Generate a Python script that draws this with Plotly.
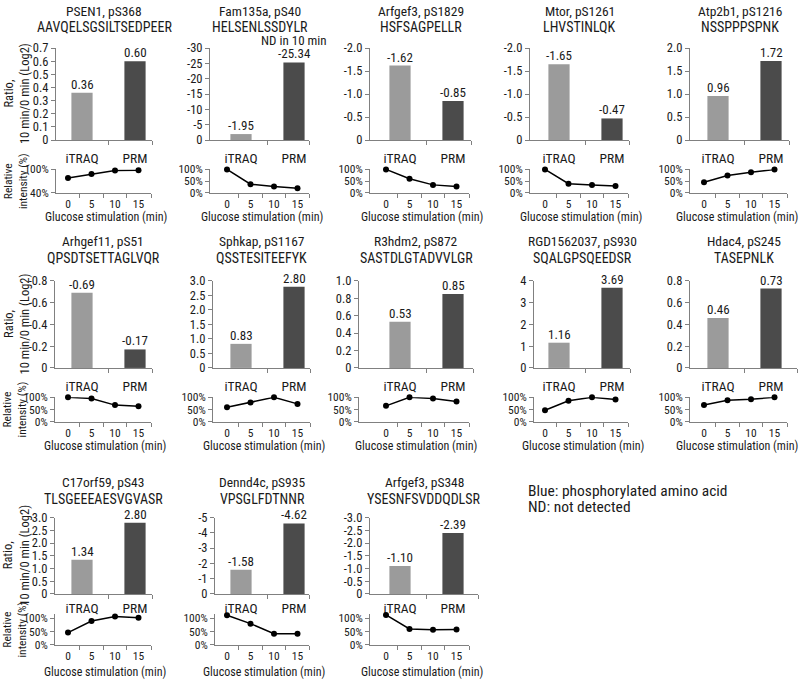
import plotly.graph_objects as go

# ---------------- data ----------------
genes = ["PSEN1, pS368", "Fam135a, pS40", "Arfgef3, pS1829", "Mtor, pS1261", "Atp2b1, pS1216",
         "Arhgef11, pS51", "Sphkap, pS1167", "R3hdm2, pS872", "RGD1562037, pS930", "Hdac4, pS245",
         "C17orf59, pS43", "Dennd4c, pS935", "Arfgef3, pS348"]
peptides = ["AAVQELSGSILTSEDPEER", "HELSENLSSDYLR", "HSFSAGPELLR", "LHVSTINLQK", "NSSPPPSPNK",
            "QPSDTSETTAGLVQR", "QSSTESITEEFYK", "SASTDLGTADVVLGR", "SQALGPSQEEDSR", "TASEPNLK",
            "TLSGEEEAESVGVASR", "VPSGLFDTNNR", "YSESNFSVDDQDLSR"]
methods = ["iTRAQ", "PRM"]
itraq_ratio = [0.36, -1.95, -1.62, -1.65, 0.96, -0.69, 0.83, 0.53, 1.16, 0.46, 1.34, -1.58, -1.10]
prm_ratio = [0.60, -25.34, -0.85, -0.47, 1.72, -0.17, 2.80, 0.85, 3.69, 0.73, 2.80, -4.62, -2.39]
prm_notes = ["", "ND in 10 min", "", "", "", "", "", "", "", "", "", "", ""]
bar_tick_labels = [
    ["0", "0.1", "0.2", "0.3", "0.4", "0.5", "0.6", "0.7"],
    ["0", "-5", "-10", "-15", "-20", "-25", "-30"],
    ["0", "-0.5", "-1.0", "-1.5", "-2.0"],
    ["0", "-0.5", "-1.0", "-1.5", "-2.0"],
    ["0", "0.5", "1.0", "1.5", "2.0"],
    ["0", "-0.2", "-0.4", "-0.6", "-0.8"],
    ["0", "0.5", "1.0", "1.5", "2.0", "2.5", "3.0"],
    ["0", "0.2", "0.4", "0.6", "0.8", "1.0"],
    ["0", "1", "2", "3", "4"],
    ["0", "0.2", "0.4", "0.6", "0.8"],
    ["0", "0.5", "1.0", "1.5", "2.0", "2.5", "3.0"],
    ["0", "-1", "-2", "-3", "-4", "-5"],
    ["0", "-0.5", "-1.0", "-1.5", "-2.0", "-2.5", "-3.0"],
]
time_labels = ["0", "5", "10", "15"]
rel_intensity = [
    [0.78, 0.88, 0.97, 0.98],
    [1.00, 0.37, 0.27, 0.20],
    [1.00, 0.60, 0.34, 0.27],
    [1.00, 0.39, 0.34, 0.29],
    [0.45, 0.74, 0.88, 1.00],
    [1.00, 0.95, 0.68, 0.63],
    [0.59, 0.79, 1.00, 0.73],
    [0.65, 1.00, 0.95, 0.83],
    [0.47, 0.86, 1.00, 0.91],
    [0.68, 0.88, 0.92, 1.00],
    [0.46, 0.90, 1.07, 1.02],
    [1.12, 0.80, 0.42, 0.42],
    [1.13, 0.60, 0.57, 0.58],
]
line_tick_labels = [["40%", "100%"]] + [["0%", "50%", "100%"]] * 12
line_axis_max = [1.0] * 10 + [1.15, 1.15, 1.15]
note_lines = ["Blue: phosphorylated amino acid", "ND: not detected"]

# ---------------- layout geometry (pixels) ----------------
W, H = 800, 685
FONT = "Liberation Sans Narrow, Roboto Condensed, Roboto, sans-serif"
AX = "#808080"
TXT = "#1a1a1a"
C_ITRAQ = "#9b9b9b"
C_PRM = "#4b4b4b"

axis_x0 = [56, 210, 370, 530, 690, 55, 213, 359, 534, 690, 55, 215, 370]
axis_x1 = [152, 309, 471, 629, 789, 152, 310, 473, 630, 797, 152, 309, 478]
row_title_y = [3, 238, 485]
row_seq_y = [19, 256, 502]
row_bar = [(41, 135), (279, 368), (521, 599)]
row_line = [(165, 189), (398, 423), (620, 651)]
row_xtitle_y = [214, 448, 679]


def px(x):
    return x / W


def py(y):
    return 1 - y / H


fig = go.Figure()
annotations = []
layout = {}

for i in range(13):
    r, c = divmod(i, 5)
    nb, nl = 2 * i + 1, 2 * i + 2
    xb = "x" if nb == 1 else f"x{nb}"
    yb = "y" if nb == 1 else f"y{nb}"
    xl, yl = f"x{nl}", f"y{nl}"
    ax0, ax1 = axis_x0[i], axis_x1[i]
    c0 = 82 + 159 * c      # iTRAQ bar centre
    sp = 53.0              # bar category spacing
    p0 = c0 - 14           # first time point
    lsp = 23.5             # time point spacing
    lx1 = min(p0 + 3.55 * lsp, ax1)

    fig.add_trace(go.Bar(x=[0, 1], y=[itraq_ratio[i], prm_ratio[i]], width=0.4,
                         marker=dict(color=[C_ITRAQ, C_PRM], line=dict(width=0)),
                         xaxis=xb, yaxis=yb, showlegend=False, hoverinfo="skip"))
    fig.add_trace(go.Scatter(x=[0, 1, 2, 3], y=rel_intensity[i], mode="lines+markers",
                             line=dict(color="black", width=1.5),
                             marker=dict(color="black", size=6),
                             xaxis=xl, yaxis=yl, showlegend=False, hoverinfo="skip",
                             cliponaxis=False))

    blo, bhi = (ax0 - c0) / sp, (ax1 - c0) / sp
    llo, lhi = (ax0 - p0) / lsp, (lx1 - p0) / lsp
    bt, bb = row_bar[r]
    lt, lb = row_line[r]
    bticks = [float(t) for t in bar_tick_labels[i]]
    lticks = [float(t.rstrip('%')) / 100 for t in line_tick_labels[i]]
    lmin = lticks[0]

    common_axis = dict(showline=True, linecolor=AX, linewidth=1, showgrid=False,
                       zeroline=False, tickcolor=AX, tickfont=dict(family=FONT, color=TXT))

    layout["xaxis" if nb == 1 else f"xaxis{nb}"] = dict(
        common_axis, domain=[px(ax0), px(ax1)], anchor=yb, range=[blo, bhi],
        tickmode="array", tickvals=[0, 1], ticktext=methods, ticks="",
        tickfont=dict(family=FONT, color=TXT, size=13.5), ticklabelstandoff=6 if r < 2 else 2,
        minor=dict(tickvals=[0.5, bhi], ticks="outside", ticklen=4, tickcolor=AX))
    layout["yaxis" if nb == 1 else f"yaxis{nb}"] = dict(
        common_axis, domain=[py(bb), py(bt)], anchor=xb, range=[0, bticks[-1]],
        tickmode="array", tickvals=bticks, ticktext=bar_tick_labels[i],
        ticks="outside", ticklen=4, tickfont=dict(family=FONT, color=TXT, size=12.5))
    layout[f"xaxis{nl}"] = dict(
        common_axis, domain=[px(ax0), px(lx1)], anchor=yl, range=[llo, lhi],
        tickmode="array", tickvals=[0, 1, 2, 3], ticktext=time_labels, ticks="",
        tickfont=dict(family=FONT, color=TXT, size=11.5), ticklabelstandoff=0,
        minor=dict(tickvals=[0.5, 1.5, 2.5, lhi], ticks="outside", ticklen=4, tickcolor=AX))
    layout[f"yaxis{nl}"] = dict(
        common_axis, domain=[py(lb), py(lt)], anchor=xl,
        range=[lmin, line_axis_max[i]],
        tickmode="array", tickvals=lticks, ticktext=line_tick_labels[i],
        ticks="outside", ticklen=4, tickfont=dict(family=FONT, color=TXT, size=11.5))

    mid = (ax0 + ax1) / 2
    annotations.append(dict(text=genes[i], x=px(mid), y=py(row_title_y[r]), xref="paper",
                            yref="paper", showarrow=False, xanchor="center", yanchor="middle",
                            font=dict(family=FONT, size=13.5, color=TXT)))
    annotations.append(dict(text=peptides[i], x=px(mid), y=py(row_seq_y[r]), xref="paper",
                            yref="paper", showarrow=False, xanchor="center", yanchor="middle",
                            font=dict(family=FONT, size=14, color=TXT)))
    for k, v in enumerate([itraq_ratio[i], prm_ratio[i]]):
        annotations.append(dict(text=f"{v:.2f}", x=k, y=v, xref=xb, yref=yb, showarrow=False,
                                xanchor="center", yanchor="bottom", yshift=-1,
                                font=dict(family=FONT, size=13, color=TXT)))
    if prm_notes[i]:
        annotations.append(dict(text=prm_notes[i], x=1, y=prm_ratio[i], xref=xb, yref=yb,
                                showarrow=False, xanchor="center", yanchor="bottom", yshift=12,
                                font=dict(family=FONT, size=13, color=TXT)))
    lmid = min((ax0 + lx1) / 2 + 2, W - 63)
    annotations.append(dict(text="Glucose stimulation (min)", x=px(lmid), y=py(row_xtitle_y[r]),
                            xref="paper", yref="paper", showarrow=False, xanchor="center",
                            yanchor="middle", font=dict(family=FONT, size=12, color=TXT)))

for r in range(3):
    bt, bb = row_bar[r]
    lt, lb = row_line[r]
    annotations.append(dict(text="Ratio,<br>10 min/0 min (Log2)", x=px(16), y=py((bt + bb) / 2),
                            xref="paper", yref="paper", showarrow=False, textangle=-90,
                            xanchor="center", yanchor="middle",
                            font=dict(family=FONT, size=12.5, color=TXT)))
    annotations.append(dict(text="Relative<br>intensity (%)", x=px(15), y=py((lt + lb) / 2),
                            xref="paper", yref="paper", showarrow=False, textangle=-90,
                            xanchor="center", yanchor="middle",
                            font=dict(family=FONT, size=11.5, color=TXT)))

for k, t in enumerate(note_lines):
    annotations.append(dict(text=t, x=px(526), y=py(494 + 16 * k), xref="paper", yref="paper",
                            showarrow=False, xanchor="left", yanchor="middle",
                            font=dict(family=FONT, size=15.5, color=TXT)))

fig.update_layout(width=W, height=H, margin=dict(l=0, r=0, t=0, b=0),
                  paper_bgcolor="white", plot_bgcolor="white",
                  font=dict(family=FONT, color=TXT), annotations=annotations, **layout)

fig.write_html("out.html", config={"displayModeBar": False},
               post_script="document.body.style.margin='0';document.body.style.overflow='hidden';")
